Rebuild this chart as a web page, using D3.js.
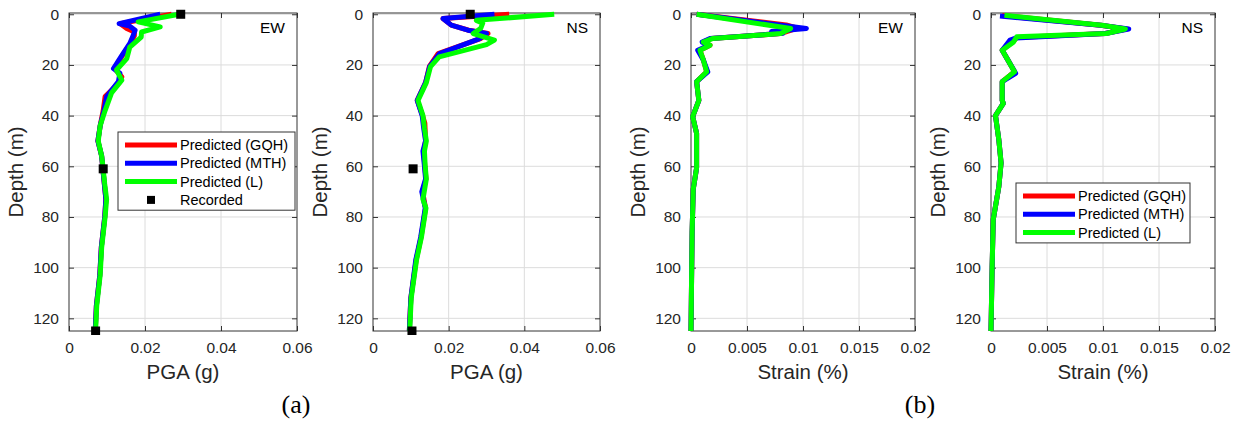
<!DOCTYPE html>
<html>
<head>
<meta charset="utf-8">
<script src="https://cdn.jsdelivr.net/npm/d3@7"></script>
<style>
  body { margin: 0; background: #fff; }
  svg { display: block; font-family: "Liberation Sans", Arial, sans-serif; }
</style>
</head>
<body>
<svg id="chart" width="1239" height="421"></svg>
<script>
// ---- data ----
const seriesNames = ['Predicted (GQH)', 'Predicted (MTH)', 'Predicted (L)'];
const recordedName = 'Recorded';
const pgaTicks = [0, 0.02, 0.04, 0.06];
const strainTicks = [0, 0.005, 0.01, 0.015, 0.02];
const depthTicks = [0, 20, 40, 60, 80, 100, 120];

// (a) EW PGA
const ewPgaDepthGQH = [0, 3.7, 5.6, 7, 8.5, 11.5, 16, 21.4, 24.7, 27, 32.5, 38, 44, 50, 56, 61, 67, 73, 80, 92, 103, 115, 125];
const ewPgaGQH      = [0.027, 0.0135, 0.0152, 0.0172, 0.0172, 0.0162, 0.0142, 0.0120, 0.0139, 0.0132, 0.0095, 0.0090, 0.0082, 0.0076, 0.0086, 0.0089, 0.0093, 0.0097, 0.0094, 0.0085, 0.0081, 0.0072, 0.0069];
const ewPgaDepthMTH = [0, 3.7, 4.7, 6.3, 8, 11.5, 16, 21.4, 23.3, 26.6, 32.5, 38, 44, 50, 56, 61, 67, 73, 80, 92, 103, 115, 125];
const ewPgaMTH      = [0.024, 0.0132, 0.016, 0.0174, 0.0170, 0.016, 0.0140, 0.0117, 0.0134, 0.013, 0.0099, 0.0092, 0.0082, 0.0076, 0.0086, 0.0089, 0.0093, 0.0097, 0.0094, 0.0085, 0.0081, 0.0072, 0.0069];
const ewPgaDepthL   = [0, 3, 5, 7, 9, 13, 17.5, 22, 26, 31, 38, 44, 50, 56, 61, 67, 73, 80, 92, 103, 115, 125];
const ewPgaL        = [0.0290, 0.0182, 0.0240, 0.0191, 0.0190, 0.0160, 0.0152, 0.0125, 0.0139, 0.0112, 0.0095, 0.0082, 0.0077, 0.0086, 0.0090, 0.0094, 0.0099, 0.0095, 0.0086, 0.0082, 0.0073, 0.0070];
const ewRecDepth    = [0, 61, 125];
const ewRecPga      = [0.0294, 0.0090, 0.0070];

// (a) NS PGA
const nsPgaDepthGQH = [0, 1.7, 4.3, 6.3, 7.6, 9.6, 15.5, 20.6, 27, 34, 40, 43, 50, 54, 60, 65, 70, 76.5, 88, 97, 112, 125];
const nsPgaGQH      = [0.036, 0.0185, 0.0207, 0.0253, 0.0304, 0.0284, 0.0172, 0.0149, 0.0139, 0.0117, 0.0131, 0.0137, 0.0139, 0.0134, 0.0137, 0.0140, 0.0131, 0.0139, 0.0127, 0.0114, 0.0100, 0.0096];
const nsPgaDepthMTH = [0, 1.7, 4.3, 6.3, 7.6, 9.6, 15.5, 20.6, 27, 34, 40, 45, 50, 54, 60, 65, 70, 76.5, 88, 97, 112, 125];
const nsPgaMTH      = [0.0321, 0.0185, 0.0207, 0.0251, 0.0300, 0.0282, 0.0176, 0.0150, 0.0139, 0.0117, 0.0130, 0.0134, 0.0139, 0.0132, 0.0136, 0.0139, 0.0129, 0.0138, 0.0126, 0.0113, 0.0100, 0.0096];
const nsPgaDepthL   = [0, 2.4, 3.5, 5.5, 7.6, 10.2, 12, 16.8, 20.7, 27, 34, 40, 45, 50, 54, 60, 65, 73, 76.5, 88, 97, 112, 125];
const nsPgaL        = [0.0479, 0.0273, 0.0290, 0.0285, 0.0265, 0.0321, 0.0300, 0.0175, 0.0152, 0.0141, 0.0119, 0.0132, 0.0136, 0.0141, 0.0136, 0.0138, 0.0141, 0.0132, 0.0140, 0.0128, 0.0115, 0.0101, 0.0097];
const nsRecDepth    = [0, 61, 125];
const nsRecPga      = [0.0257, 0.0106, 0.0103];

// (b) EW strain
const ewStrDepthGQH = [0, 4.2, 5.5, 7.6, 9.6, 11, 12.2, 14.2, 18, 22.7, 26.6, 34, 40.4, 47, 60.6, 69, 86, 105, 125];
const ewStrGQH      = [0.0005, 0.0085, 0.0095, 0.0080, 0.0018, 0.0011, 0.0017, 0.0008, 0.0011, 0.0014, 0.0005, 0.0007, 0.00015, 0.0005, 0.0005, 0.0002, 0.0001, 0.00005, 0];
const ewStrDepthMTH = [0, 5.6, 6.8, 7.5, 9.6, 11, 12.2, 14.2, 18, 22.7, 26.6, 34, 40.4, 47, 60.6, 69, 86, 105, 125];
const ewStrMTH      = [0.0005, 0.0103, 0.0072, 0.0082, 0.0017, 0.0010, 0.0016, 0.0006, 0.0011, 0.0015, 0.0005, 0.0007, 0.00015, 0.0005, 0.0005, 0.0002, 0.0001, 0.00005, 0];
const ewStrDepthL   = [0, 5.6, 7.6, 9.6, 11, 12.2, 14.2, 18, 22.7, 26.6, 34, 40.4, 47, 60.6, 69, 86, 105, 125];
const ewStrL        = [0.0005, 0.0089, 0.0080, 0.0019, 0.0011, 0.0017, 0.0008, 0.0011, 0.0014, 0.0005, 0.0007, 0.00015, 0.0005, 0.0005, 0.0002, 0.0001, 0.00005, 0];

// (b) NS strain
const nsStrDepthGQH = [0.5, 4.3, 5.8, 7.6, 9.2, 11, 14.2, 18, 22.7, 26.6, 34, 35.2, 40, 49.6, 58.7, 68, 81, 100, 125];
const nsStrGQH      = [0.0010, 0.0098, 0.0121, 0.0102, 0.0023, 0.0019, 0.0010, 0.0015, 0.0021, 0.0010, 0.0010, 0.0011, 0.0004, 0.0007, 0.0009, 0.0007, 0.0002, 0.0001, 0];
const nsStrDepthMTH = [0.7, 4.3, 5.8, 7.6, 9.4, 10.2, 14.2, 18, 23.3, 26.6, 34, 35.2, 40, 49.6, 58.7, 68, 81, 100, 125];
const nsStrMTH      = [0.0008, 0.0098, 0.0123, 0.0102, 0.0022, 0.0017, 0.0010, 0.0015, 0.0022, 0.0010, 0.0010, 0.0011, 0.0004, 0.0007, 0.0009, 0.0007, 0.0002, 0.0001, 0];
const nsStrDepthL   = [0.4, 4.3, 5.8, 7.6, 8.9, 11, 14.2, 18, 22.7, 26.6, 34, 35.2, 40, 49.6, 58.7, 68, 81, 100, 125];
const nsStrL        = [0.0012, 0.0099, 0.0120, 0.0103, 0.0023, 0.0020, 0.0010, 0.0015, 0.0021, 0.0010, 0.0010, 0.0011, 0.0004, 0.0007, 0.0009, 0.0007, 0.0002, 0.0001, 0];

const colors = ['#ff0000', '#0000ff', '#00ff00'];

const zip = (xs, ds) => xs.map((v, i) => ({v: v, d: ds[i]}));

const panels = [
  { x0: 69,  x1: 297,  domain: [0, 0.06], ticks: pgaTicks,    xlabel: 'PGA (g)',    tag: 'EW',
    series: [zip(ewPgaGQH, ewPgaDepthGQH), zip(ewPgaMTH, ewPgaDepthMTH), zip(ewPgaL, ewPgaDepthL)],
    recorded: zip(ewRecPga, ewRecDepth), legend: { x: 118, y: 132, w: 177, rows: 4 } },
  { x0: 373, x1: 600,  domain: [0, 0.06], ticks: pgaTicks,    xlabel: 'PGA (g)',    tag: 'NS',
    series: [zip(nsPgaGQH, nsPgaDepthGQH), zip(nsPgaMTH, nsPgaDepthMTH), zip(nsPgaL, nsPgaDepthL)],
    recorded: zip(nsRecPga, nsRecDepth) },
  { x0: 691, x1: 915,  domain: [0, 0.02], ticks: strainTicks, xlabel: 'Strain (%)', tag: 'EW',
    series: [zip(ewStrGQH, ewStrDepthGQH), zip(ewStrMTH, ewStrDepthMTH), zip(ewStrL, ewStrDepthL)] },
  { x0: 991, x1: 1215, domain: [0, 0.02], ticks: strainTicks, xlabel: 'Strain (%)', tag: 'NS',
    series: [zip(nsStrGQH, nsStrDepthGQH), zip(nsStrMTH, nsStrDepthMTH), zip(nsStrL, nsStrDepthL)],
    legend: { x: 1016, y: 183, w: 174, rows: 3 } }
];

const svg = d3.select('#chart');
const yTop = 13, yBot = 331;
const y = d3.scaleLinear().domain([-0.5, 125]).range([yTop, yBot]);
const tickFmt = d3.format('~g');

panels.forEach(function(p)
{
  const x = d3.scaleLinear().domain(p.domain).range([p.x0, p.x1]);
  const g = svg.append('g');

  // grid
  g.selectAll('.gx').data(p.ticks.slice(1, -1)).enter().append('line')
    .attr('x1', (d)=>x(d)).attr('x2', (d)=>x(d)).attr('y1', yTop).attr('y2', yBot)
    .attr('stroke', '#dcdcdc').attr('stroke-width', 1);
  g.selectAll('.gy').data(depthTicks).enter().append('line')
    .attr('x1', p.x0).attr('x2', p.x1).attr('y1', (d)=>y(d)).attr('y2', (d)=>y(d))
    .attr('stroke', '#dcdcdc').attr('stroke-width', 1);

  // axes (MATLAB style, ticks inside on all four sides)
  const axB = d3.axisBottom(x).tickValues(p.ticks).tickFormat(tickFmt).tickSizeInner(-5).tickSizeOuter(0).tickPadding(11);
  const axT = d3.axisTop(x).tickValues(p.ticks).tickFormat('').tickSizeInner(-5).tickSizeOuter(0);
  const axL = d3.axisLeft(y).tickValues(depthTicks).tickSizeInner(-5).tickSizeOuter(0).tickPadding(10);
  const axR = d3.axisRight(y).tickValues(depthTicks).tickFormat('').tickSizeInner(-5).tickSizeOuter(0);

  [[axB, 'translate(0,' + yBot + ')'], [axT, 'translate(0,' + yTop + ')'],
   [axL, 'translate(' + p.x0 + ',0)'], [axR, 'translate(' + p.x1 + ',0)']].forEach(function(a)
  {
    const ag = g.append('g').attr('transform', a[1]).call(a[0]);
    ag.select('.domain').remove();
    ag.selectAll('line').attr('stroke', '#333');
    ag.selectAll('text').attr('fill', '#262626').style('font-size', '15.5px')
      .style('font-family', '"Liberation Sans", Arial, sans-serif');
  });

  g.append('rect').attr('x', p.x0).attr('y', yTop).attr('width', p.x1 - p.x0).attr('height', yBot - yTop)
    .attr('fill', 'none').attr('stroke', '#333').attr('stroke-width', 1);

  // clip
  const clipId = 'clip' + p.x0;
  svg.append('clipPath').attr('id', clipId).append('rect')
    .attr('x', p.x0 - 4).attr('y', yTop - 4).attr('width', p.x1 - p.x0 + 8).attr('height', yBot - yTop + 8);

  const line = d3.line().x((d)=>x(d.v)).y((d)=>y(d.d));
  const plot = g.append('g').attr('clip-path', 'url(#' + clipId + ')');
  p.series.forEach(function(s, i)
  {
    plot.append('path').attr('d', line(s))
      .attr('fill', 'none').attr('stroke', colors[i]).attr('stroke-width', 5)
      .attr('stroke-linejoin', 'round').attr('stroke-linecap', 'butt');
  });
  if(p.recorded)
  {
    plot.selectAll('.rec').data(p.recorded).enter().append('rect')
      .attr('x', (d)=>x(d.v) - 4.5).attr('y', (d)=>y(d.d) - 4.5)
      .attr('width', 9).attr('height', 9).attr('fill', '#000');
  }

  // labels
  g.append('text').attr('x', p.x1 - 12).attr('y', 33).attr('text-anchor', 'end')
    .style('font-size', '15.5px').attr('fill', '#000').text(p.tag);
  g.append('text').attr('x', (p.x0 + p.x1) / 2).attr('y', 379).attr('text-anchor', 'middle')
    .style('font-size', '20.5px').attr('fill', '#262626').text(p.xlabel);
  g.append('text').attr('transform', 'translate(' + (p.x0 - 46) + ',' + ((yTop + yBot) / 2) + ') rotate(-90)')
    .attr('text-anchor', 'middle').style('font-size', '20.5px').attr('fill', '#262626').text('Depth (m)');

  // legend
  if(p.legend)
  {
    const L = p.legend, rowH = 18.3;
    const lg = g.append('g');
    lg.append('rect').attr('x', L.x).attr('y', L.y).attr('width', L.w).attr('height', L.rows * rowH + 5)
      .attr('fill', '#fff').attr('stroke', '#333').attr('stroke-width', 1);
    const names = L.rows === 4 ? seriesNames.concat([recordedName]) : seriesNames;
    names.forEach(function(n, i)
    {
      const ry = L.y + 13 + i * rowH;
      if(i < 3)
      {
        lg.append('line').attr('x1', L.x + 7).attr('x2', L.x + 59).attr('y1', ry).attr('y2', ry)
          .attr('stroke', colors[i]).attr('stroke-width', 5);
      }
      else
      {
        lg.append('rect').attr('x', L.x + 33 - 4).attr('y', ry - 4).attr('width', 8).attr('height', 8).attr('fill', '#000');
      }
      lg.append('text').attr('x', L.x + 62).attr('y', ry + 5).style('font-size', '14.5px').attr('fill', '#000').text(n);
    });
  }
});

// sub-figure captions
svg.append('text').attr('x', 296).attr('y', 413).attr('text-anchor', 'middle')
  .style('font-family', '"Liberation Serif", "Times New Roman", serif').style('font-size', '26px').text('(a)');
svg.append('text').attr('x', 920).attr('y', 413).attr('text-anchor', 'middle')
  .style('font-family', '"Liberation Serif", "Times New Roman", serif').style('font-size', '26px').text('(b)');
</script>
</body>
</html>
